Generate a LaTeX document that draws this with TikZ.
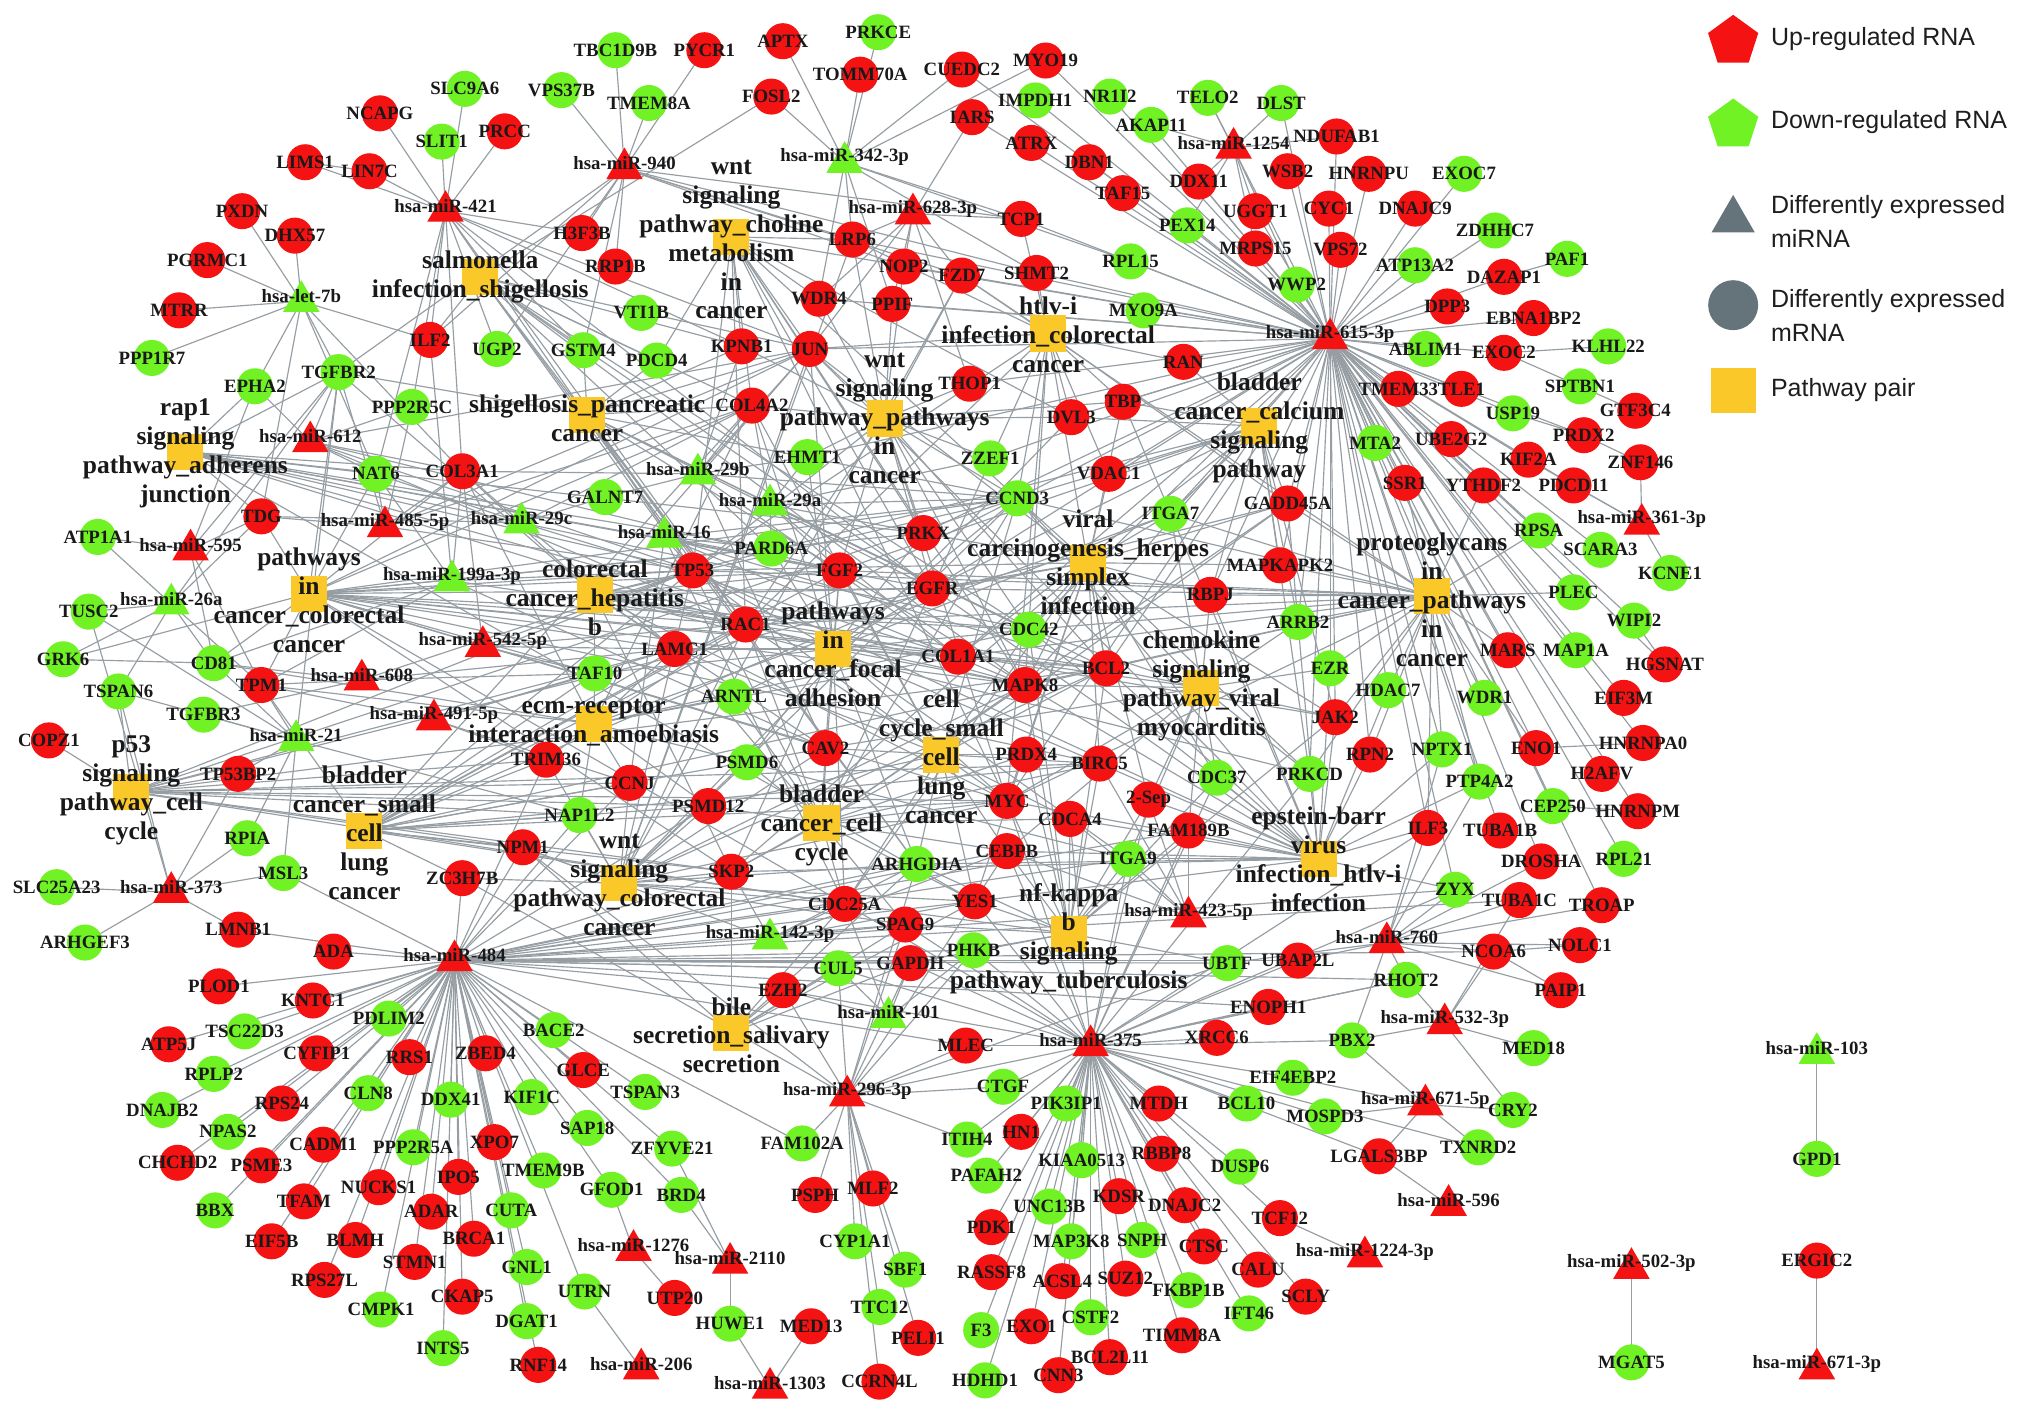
\documentclass[tikz,border=0pt]{standalone}
\usepackage{fontspec}
\setmainfont{Liberation Serif}
\newfontfamily\legfont{Liberation Sans}
\usetikzlibrary{shapes.geometric}
\definecolor{upred}{RGB}{244,18,18}
\definecolor{downgreen}{RGB}{112,242,36}
\definecolor{pwyellow}{RGB}{250,200,40}
\definecolor{edgec}{RGB}{150,158,163}
\definecolor{legray}{RGB}{100,116,122}
\definecolor{labc}{RGB}{25,25,25}
\definecolor{legc}{RGB}{30,30,30}
\pgfdeclarelayer{background}
\pgfsetlayers{background,main}
\tikzset{
  edge/.style={draw=edgec, line width=0.45pt},
  rc/.style={circle, fill=upred, minimum size=14pt, inner sep=0pt},
  gc/.style={circle, fill=downgreen, minimum size=14pt, inner sep=0pt},
  rt/.style={regular polygon, regular polygon sides=3, fill=upred, minimum size=16.4pt, inner sep=0pt, yshift=-2pt},
  gt/.style={regular polygon, regular polygon sides=3, fill=downgreen, minimum size=16.4pt, inner sep=0pt, yshift=-2pt},
  pw/.style={rectangle, fill=pwyellow, minimum size=14pt, inner sep=0pt},
  glab/.style={font=\fontsize{7.3}{8}\selectfont\bfseries, text=labc, inner sep=0pt},
  plab/.style={font=\fontsize{9.9}{11.25}\selectfont\bfseries, align=center, text=labc, inner sep=0pt},
  legt/.style={font=\legfont\fontsize{9.7}{13}\selectfont, anchor=west, align=left, text=legc, inner sep=0pt}
}
\def\RedC{NCAPG/295/88,PRCC/392/102,LIMS1/237/126,LIN7C/287/133,PXDN/188/164,DHX57/229/183,PGRMC1/161/202,MTRR/139/241,ILF2/334/264,COL3A1/359/366,TDG/203/401,TPM1/203/532,COPZ1/38/575,TP53BP2/185/601,ZC3H7B/359/682,LMNB1/185/722,ADA/259/739,PLOD1/170/766,KNTC1/243/777,ATP5J/131/811,CYFIP1/246/818,RRS1/318/821,ZBED4/377/818,RPS24/219/857,GLCE/453/831,CADM1/251/889,XPO7/384/887,CHCHD2/138/903,PSME3/203/905,NUCKS1/294/922,IPO5/356/914,TFAM/236/933,ADAR/335/941,EIF5B/211/964,BLMH/276/963,BRCA1/368/962,STMN1/322/980,RPS27L/252/994,CKAP5/359/1007,UTP20/524/1008,MED13/630/1030,RNF14/418/1060,CCRN4L/683/1073,EZH2/608/769,GAPDH/707/748,MLEC/750/812,PSPH/633/928,MLF2/678/923,PELI1/713/1039,HN1/793/879,MTDH/900/857,RBBP8/902/896,KDSR/869/929,DNAJC2/920/936,PDK1/770/953,RASSF8/770/988,ACSL4/825/995,SUZ12/874/993,CTSC/935/968,CALU/977/986,TCF12/994/946,SCLY/1014/1007,EXO1/801/1030,TIMM8A/918/1037,BCL2L11/862/1054,CNN3/822/1068,LGALS3BP/1071/898,XRCC6/945/806,ENOPH1/985/782,UBAP2L/1008/746,NCOA6/1160/739,NOLC1/1227/734,PAIP1/1212/769,TROAP/1244/703,TUBA1C/1180/699,DROSHA/1197/669,HNRNPM/1272/630,TUBA1B/1165/645,ILF3/1109/643,ENO1/1193/581,H2AFV/1244/601,HNRNPA0/1276/577,EIF3M/1261/542,HGSNAT/1293/516,MARS/1171/505,RPN2/1064/586,JAK2/1037/557,ERGIC2/1411/979}
\def\RedCb{PYCR1/547/39,APTX/608/32,FOSL2/599/75,TOMM70A/668/58,CUEDC2/747/54,IARS/755/91,MYO19/812/47,ATRX/801/111,DBN1/846/126,TAF15/872/150,DDX11/931/141,NDUFAB1/1038/106,WSB2/1000/133,HNRNPU/1063/135,UGGT1/975/164,CYC1/1032/162,DNAJC9/1099/162,TCP1/793/170,MRPS15/975/193,VPS72/1041/194,SHMT2/805/212,DAZAP1/1168/215,DPP3/1124/238,EBNA1BP2/1191/247,EXOC2/1168/274,TMEM33/1086/302,TLE1/1135/302,UBE2G2/1127/341,GTF3C4/1270/319,PRDX2/1230/338,KIF2A/1187/357,ZNF146/1274/359,SSR1/1091/375,YTHDF2/1152/377,PDCD11/1222/377,H3F3B/452/181,RRP1B/478/207,LRP6/662/186,NOP2/702/207,FZD7/747/214,WDR4/636/232,PPIF/693/236,KPNB1/576/269,JUN/629/271,THOP1/753/298,COL4A2/584/315,RAN/919/281,TBP/872/312,DVL3/832/324,VDAC1/861/368,GADD45A/1000/391,MAPKAPK2/994/439,RBPJ/940/462,PRKX/717/414,TP53/538/443,FGF2/652/443,EGFR/724/457,RAC1/579/485,LAMC1/524/504,COL1A1/744/510,BCL2/859/519,MAPK8/796/532,CAV2/641/581,TRIM36/424/590,CCNJ/489/608,PSMD12/550/626,NPM1/406/658,SKP2/568/677,MYC/782/622,PRDX4/797/586,BIRC5/854/593,CDCA4/831/636,FAM189B/923/645,CEBPB/782/661,CDC25A/656/702,YES1/757/700,SPAG9/703/718}
\def\GrnC{SLC9A6/361/69,SLIT1/343/110,PPP1R7/118/278,UGP2/386/271,TGFBR2/263/289,EPHA2/198/300,PPP2R5C/320/316,NAT6/292/368,ATP1A1/76/417,TUSC2/69/475,GRK6/49/512,CD81/166/515,TSPAN6/92/537,TGFBR3/158/555,RPIA/192/651,MSL3/220/678,SLC25A23/44/689,ARHGEF3/66/732,PDLIM2/302/791,TSC22D3/190/801,RPLP2/166/834,DNAJB2/126/862,CLN8/286/849,DDX41/350/854,BACE2/430/800,KIF1C/413/852,NPAS2/177/879,PPP2R5A/321/891,TSPAN3/501/848,SAP18/456/876,ZFYVE21/522/892,BBX/167/940,TMEM9B/422/909,CUTA/397/940,GFOD1/475/924,BRD4/529/928,GNL1/409/984,UTRN/454/1003,CMPK1/296/1017,DGAT1/409/1026,HUWE1/567/1028,INTS5/344/1047,CUL5/651/752,PHKB/756/738,FAM102A/623/888,CYP1A1/664/964,SBF1/703/986,TTC12/683/1015,CTGF/779/844,ITIH4/751/885,PAFAH2/766/913,PIK3IP1/828/857,UNC13B/815/937,KIAA0513/840/901,MAP3K8/832/964,SNPH/887/963,F3/762/1033,HDHD1/765/1072,CSTF2/847/1023,FKBP1B/923/1002,IFT46/970/1020,DUSP6/963/906,BCL10/968/857,EIF4EBP2/1004/837,MOSPD3/1029/867,PBX2/1050/808,RHOT2/1092/761,UBTF/953/748,TXNRD2/1148/891,CRY2/1175/862,MED18/1191/814,GPD1/1411/900,MGAT5/1267/1058}
\def\GrnCb{TBC1D9B/478/39,VPS37B/436/70,TMEM8A/504/80,PRKCE/682/25,IMPDH1/804/78,NR1I2/862/75,AKAP11/894/97,TELO2/938/76,DLST/995/80,EXOC7/1137/135,ZDHHC7/1161/179,PAF1/1217/201,PEX14/922/175,ATP13A2/1099/206,WWP2/1007/221,RPL15/878/203,MYO9A/888/241,ABLIM1/1107/271,KLHL22/1249/269,SPTBN1/1227/300,USP19/1175/321,MTA2/1068/344,RPSA/1195/412,SCARA3/1243/427,KCNE1/1297/445,PLEC/1222/460,WIPI2/1269/482,MAP1A/1224/505,CEP250/1206/626,RPL21/1261/667,VTI1B/498/243,GSTM4/453/272,PDCD4/510/280,EHMT1/627/355,ZZEF1/769/356,CCND3/790/387,ITGA7/909/399,GALNT7/470/386,PARD6A/599/426,TAF10/462/523,ARNTL/570/541,PSMD6/580/592,NAP1L2/450/633,ARHGDIA/712/671,CDC42/799/489,ARRB2/1008/483,EZR/1033/519,HDAC7/1078/536,WDR1/1153/542,NPTX1/1120/582,PRKCD/1017/601,CDC37/945/604,PTP4A2/1149/607,ITGA9/876/667,ZYX/1130/691}
\def\RedT{m421/346/160/hsa-miR-421,m940/485/127/hsa-miR-940,m628/709/162/hsa-miR-628-3p,m1254/958/111/hsa-miR-1254,m615/1033/259/hsa-miR-615-3p,m612/241/339/hsa-miR-612,m485/299/405/hsa-miR-485-5p,m595/148/423/hsa-miR-595,m542/375/498/hsa-miR-542-5p,m608/281/524/hsa-miR-608,m491/337/555/hsa-miR-491-5p,m373/133/689/hsa-miR-373,m484/353/742/hsa-miR-484,m1276/492/967/hsa-miR-1276,m2110/567/977/hsa-miR-2110,m206/498/1059/hsa-miR-206,m1303/598/1074/hsa-miR-1303,m296/658/847/hsa-miR-296-3p,m375/847/808/hsa-miR-375,m423/923/708/hsa-miR-423-5p,m760/1077/728/hsa-miR-760,m532/1122/791/hsa-miR-532-3p,m671a/1107/854/hsa-miR-671-5p,m596/1125/932/hsa-miR-596,m1224/1060/972/hsa-miR-1224-3p,m361/1275/403/hsa-miR-361-3p,m502/1267/981/hsa-miR-502-3p,m671b/1411/1059/hsa-miR-671-3p}
\def\GrnT{let7b/234/230/hsa-let-7b,m342/656/122/hsa-miR-342-3p,m199/351/447/hsa-miR-199a-3p,m26a/133/465/hsa-miR-26a,m21/230/571/hsa-miR-21,m29b/542/364/hsa-miR-29b,m29a/598/388/hsa-miR-29a,m29c/405/402/hsa-miR-29c,m16/516/413/hsa-miR-16,m142/598/725/hsa-miR-142-3p,m101/690/786/hsa-miR-101,m103/1411/814/hsa-miR-103}
\def\PW{psal/373/215/215/{salmonella\\infection\_shigellosis},pwch/568/184/186/{wnt\\signaling\\pathway\_choline\\metabolism\\in\\cancer},phtc/814/259/260/{htlv-i\\infection\_colorectal\\cancer},prap/144/351/352/{rap1\\signaling\\pathway\_adherens\\junction},pshp/456/322/325/{shigellosis\_pancreatic\\cancer},pwpc/687/325/325/{wnt\\signaling\\pathway\_pathways\\in\\cancer},pbca/978/331/332/{bladder\\cancer\_calcium\\signaling\\pathway},ppcc/240/461/466/{pathways\\in\\cancer\_colorectal\\cancer},pchb/462/462/464/{colorectal\\cancer\_hepatitis\\b},pvch/845/437/437/{viral\\carcinogenesis\_herpes\\simplex\\infection},ppgc/1112/463/466/{proteoglycans\\in\\cancer\_pathways\\in\\cancer},ppfa/647/504/508/{pathways\\in\\cancer\_focal\\adhesion},pecm/461/562/561/{ecm-receptor\\interaction\_amoebiasis},pchm/933/534/533/{chemokine\\signaling\\pathway\_viral\\myocarditis},pccs/731/586/588/{cell\\cycle\_small\\cell\\lung\\cancer},pp53/102/615/614/{p53\\signaling\\pathway\_cell\\cycle},pbsc/283/645/647/{bladder\\cancer\_small\\cell\\lung\\cancer},pbcc/638/639/641/{bladder\\cancer\_cell\\cycle},pebv/1024/667/667/{epstein-barr\\virus\\infection\_htlv-i\\infection},pwcr/481/686/687/{wnt\\signaling\\pathway\_colorectal\\cancer},pnfk/830/725/729/{nf-kappa\\b\\signaling\\pathway\_tuberculosis},pbil/568/802/804/{bile\\secretion\_salivary\\secretion}}
\def\EDGES{%
m484/{ADA,PLOD1,KNTC1,PDLIM2,TSC22D3,ATP5J,CYFIP1,RRS1,ZBED4,RPLP2,DNAJB2,RPS24,CLN8,DDX41,NPAS2,CADM1,PPP2R5A,CHCHD2,PSME3,NUCKS1,IPO5,BBX,TFAM,ADAR,EIF5B,BLMH,BRCA1,STMN1,RPS27L,CKAP5,CMPK1,INTS5,XPO7,KIF1C,BACE2,GLCE,SAP18,TMEM9B,CUTA,GNL1,DGAT1,RNF14,TSPAN3,ZFYVE21,GFOD1,BRD4,UTRN,ZC3H7B,LMNB1,MSL3,NPM1,TRIM36,NAP1L2,CCNJ,PSMD12,SKP2,CDC25A,SPAG9,GAPDH,CUL5,PHKB,EZH2,YES1,UBTF,UBAP2L,NCOA6,ITGA9,CEBPB,ARHGDIA,ZYX,TUBA1C,MLEC,FAM102A,RHOT2,FAM189B,ENOPH1},%
m615/{NDUFAB1,WSB2,HNRNPU,CYC1,DNAJC9,EXOC7,UGGT1,MRPS15,VPS72,WWP2,ATP13A2,ZDHHC7,DAZAP1,DPP3,EBNA1BP2,ABLIM1,EXOC2,TMEM33,TLE1,MTA2,UBE2G2,USP19,KIF2A,PRDX2,SSR1,YTHDF2,PDCD11,RPSA,SCARA3,PLEC,WIPI2,MAP1A,MARS,HGSNAT,EIF3M,ENO1,HNRNPA0,H2AFV,CEP250,HNRNPM,TUBA1B,DROSHA,RPL21,TROAP,WDR1,NPTX1,PTP4A2,ILF3,RPN2,HDAC7,EZR,JAK2,RAN,TBP,RPL15,MYO9A,SHMT2,TCP1,PEX14,DDX11,TAF15,DBN1,ATRX,IMPDH1,MYO19,AKAP11,NR1I2,DLST,GADD45A,MAPKAPK2,ARRB2,DVL3,VDAC1,ITGA7,THOP1,FZD7,PPIF,NOP2,LRP6,CUEDC2,IARS,TELO2,ZYX,PRKCD,RBPJ,BCL2,CDC42,CCND3,PRKX,EGFR,ZZEF1,EHMT1,JUN,WDR4,COL1A1,MAPK8},%
m375/{CTGF,PIK3IP1,HN1,ITIH4,PAFAH2,KIAA0513,UNC13B,PDK1,RASSF8,MAP3K8,SNPH,F3,ACSL4,EXO1,HDHD1,CNN3,CSTF2,BCL2L11,SUZ12,KDSR,TIMM8A,FKBP1B,MTDH,RBBP8,DNAJC2,CTSC,CALU,IFT46,DUSP6,TCF12,SCLY,BCL10,XRCC6,ENOPH1,EIF4EBP2,MOSPD3,LGALS3BP,UBTF,MLEC,UBAP2L,RHOT2,TXNRD2,PBX2,PHKB,GAPDH,CUL5,SPAG9,YES1,CEBPB,ITGA9,FAM189B,CDCA4,MYC,SEPT2,CDC37,PRKCD,ZYX,ILF3,EZH2,CDC25A},%
m296/{FAM102A,PSPH,MLF2,CYP1A1,SBF1,TTC12,PELI1,CCRN4L,MLEC,CTGF,ITIH4,PHKB,SPAG9,GAPDH,EZH2,CUL5,ARHGDIA,NPM1,ZC3H7B,CEBPB,UBTF,RHOT2},%
m421/{NCAPG,SLIT1,SLC9A6,PRCC,LIN7C,LIMS1,ILF2,UGP2,COL3A1,PPP2R5C,NAT6,GSTM4,KPNB1,JUN,TP53,RAC1,EGFR,H3F3B},%
let7b/{PXDN,DHX57,PGRMC1,MTRR,PPP1R7,TGFBR2,COL3A1,NAT6,EPHA2,ILF2,TDG},%
m940/{TBC1D9B,VPS37B,TMEM8A,PYCR1,RRP1B,H3F3B,ILF2,GSTM4,FZD7,LRP6,NOP2,TCP1,SHMT2,UGP2,TGFBR2},%
m342/{APTX,FOSL2,TOMM70A,PRKCE,WDR4,LRP6,PPIF,TCP1,CUEDC2,MYO19,SHMT2,RPL15},%
m628/{LRP6,NOP2,FZD7,WDR4,PPIF,TCP1,JUN,IARS,THOP1},%
m1254/{TELO2,DLST,NDUFAB1,UGGT1,MRPS15,AKAP11,DDX11,WWP2,PEX14},%
m612/{TGFBR2,EPHA2,COL3A1,NAT6,PPP2R5C,JUN,TP53,RAC1,FGF2},%
m485/{NAT6,TDG,COL3A1,TGFBR2,PPP2R5C,TP53,COL4A2,JUN},%
m595/{ATP1A1,TDG,TGFBR2,EPHA2,CD81,TPM1},%
m26a/{ATP1A1,TUSC2,GRK6,CD81,TSPAN6,TGFBR2,TDG,TPM1},%
m199/{CD81,TPM1,CAV2,TP53,RAC1,NAT6,COL3A1,ILF2},%
m608/{TPM1,CD81,TGFBR3,TAF10,LAMC1,TP53},%
m491/{TPM1,TAF10,TRIM36,LAMC1,CCNJ},%
m542/{TAF10,LAMC1,TP53,COL3A1,RAC1},%
m21/{TPM1,TGFBR3,TSPAN6,CD81,RPIA,MSL3,TP53BP2,TGFBR2,TUSC2,NAP1L2},%
m373/{RPIA,SLC25A23,ARHGEF3,LMNB1,TSPAN6,TUSC2,TP53BP2,MSL3},%
m29b/{COL4A2,COL1A1,COL3A1,CAV2,CCND3,GALNT7,KPNB1,JUN,EHMT1},%
m29a/{COL4A2,COL1A1,CDC42,PRKX,EHMT1,CCND3,FGF2,PARD6A,ZZEF1},%
m29c/{COL3A1,COL4A2,COL1A1,TDG,GALNT7,NAT6,LAMC1},%
m16/{CCND3,BCL2,CDC25A,FGF2,TP53,PARD6A,CCNJ,MAPK8},%
m142/{SPAG9,CDC25A,CEBPB,SKP2,ARHGDIA,YES1,NPM1},%
m101/{EZH2,GAPDH,CUL5,PHKB,CDC25A},%
m423/{ITGA9,FAM189B,CDCA4,SEPT2,CEBPB,BIRC5},%
m760/{NCOA6,NOLC1,PAIP1,RHOT2,UBAP2L,PBX2,ZYX,TUBA1C,ILF3,TROAP,DROSHA,NPTX1,PTP4A2,UBTF},%
m532/{MED18,RHOT2,CRY2,PBX2,NCOA6,TUBA1C},%
m671a/{TXNRD2,LGALS3BP,MOSPD3,CRY2,EIF4EBP2,PBX2},%
m596/{LGALS3BP},m1224/{TCF12},m361/{KCNE1,PDCD11,KIF2A,ZNF146},%
m1276/{GFOD1,UTP20},m2110/{BRD4,HUWE1,ZFYVE21},m206/{UTRN},m1303/{MED13,HUWE1},%
m103/{GPD1},m502/{MGAT5},m671b/{ERGIC2},%
DAZAP1/{PAF1},EXOC2/{KLHL22,SPTBN1},SPTBN1/{GTF3C4},USP19/{PRDX2},PRDX2/{ZNF146},WIPI2/{HGSNAT},NCOA6/{NOLC1,PAIP1},LIMS1/{LIN7C},GRK6/{CD81},CEP250/{HNRNPM},ENO1/{HNRNPA0},%
psal/{JUN,RAC1,CDC42,MAPK8,PARD6A,TP53,ARHGDIA,EGFR,KPNB1,GSTM4,ILF2,FOSL2,COL4A2,PDCD4},%
pwch/{JUN,FZD7,LRP6,DVL3,KPNB1,PDCD4,EGFR,RAC1,MAPK8,TP53,CCND3,MYC,PRKX,WDR4,COL4A2},%
phtc/{JUN,TP53,DVL3,FZD7,TBP,CCND3,MYC,EGFR,RAC1,BCL2,MAPK8,VDAC1,LRP6,RAN,GADD45A,TCP1,SHMT2},%
prap/{TGFBR2,EPHA2,RAC1,CDC42,EGFR,FGF2,PARD6A,YES1,NAT6,COL3A1,TP53,MAPK8,PRKX,TDG},%
pshp/{JUN,RAC1,CDC42,MAPK8,TP53,EGFR,ARHGDIA,TGFBR2,CCND3,GSTM4,KPNB1,PDCD4,COL4A2,BCL2},%
pwpc/{JUN,FZD7,LRP6,DVL3,CCND3,MYC,TP53,EGFR,FGF2,RAC1,PRKX,WDR4,PPIF,TBP,NOP2,THOP1,ZZEF1,EHMT1,COL4A2,KPNB1,CDC42,BCL2,MAPK8},%
pbca/{EGFR,MYC,TP53,VDAC1,GADD45A,ITGA7,MAPKAPK2,RBPJ,PRKCD,CCND3,JAK2,RAN,TBP,DVL3,ARRB2,COL1A1,FGF2},%
ppcc/{TP53,RAC1,EGFR,FGF2,MYC,CCND3,JUN,BCL2,MAPK8,LAMC1,COL4A2,TGFBR2,CDC42,BIRC5,SKP2,TPM1,TDG,CD81,NAT6,COL3A1,TAF10,CAV2,PARD6A,GRK6,COL1A1,CDC25A,PRKX},%
pchb/{TP53,RAC1,MYC,CCND3,JUN,EGFR,BCL2,MAPK8,CDC42,FGF2,TAF10,LAMC1,PRKCD,JAK2,COL3A1,TGFBR2,CAV2,SKP2},%
pvch/{JUN,TP53,CCND3,CDC42,MAPK8,BCL2,JAK2,TBP,EGFR,RBPJ,PRKX,GADD45A,CDC37,SKP2,YES1,CDC25A,MYC,RAC1,ITGA7,VDAC1,MAPKAPK2,PRKCD,SEPT2,BIRC5},%
ppgc/{EGFR,CDC42,RAC1,MAPK8,FGF2,EZR,JAK2,MYC,CCND3,TP53,ARRB2,HDAC7,RBPJ,WDR1,PRKCD,FZD7,COL1A1,RPN2,GADD45A,MAPKAPK2,ITGA7,BCL2,NPTX1,PTP4A2,ILF3,MARS,ENO1,PLEC,RPSA,YTHDF2,SSR1},%
ppfa/{EGFR,RAC1,CDC42,CAV2,COL1A1,COL4A2,LAMC1,FGF2,JUN,MAPK8,BCL2,CCND3,BIRC5,PRKX,ITGA7,ITGA9,ARHGDIA,TP53,MYC,PARD6A,ARNTL,PSMD6,TAF10,SKP2,CDC25A,EHMT1},%
pecm/{COL1A1,COL3A1,COL4A2,LAMC1,ITGA7,ITGA9,CD81,TPM1,ARNTL,RAC1,CDC42,TAF10,TRIM36,CCNJ,NAP1L2,PSMD12},%
pchm/{CDC42,RAC1,JAK2,ARRB2,PRKCD,CAV2,BCL2,ITGA9,MAPK8,EZR,RBPJ,CDC37,SEPT2,FAM189B,MYC,CCND3,CEBPB,ITGA7},%
pccs/{CCND3,MYC,TP53,SKP2,CDC25A,GADD45A,BCL2,LAMC1,COL4A2,BIRC5,CDCA4,PRDX4,CDC42,RAC1,CAV2,ARHGDIA,YES1,CEBPB,PSMD12,FGF2},%
pp53/{TP53,CCND3,GADD45A,MYC,CDC25A,SKP2,TP53BP2,COPZ1,TSPAN6,TRIM36,NAP1L2,NPM1,PSMD12,CCNJ,BCL2,BIRC5,LAMC1},%
pbsc/{TP53,MYC,CCND3,EGFR,FGF2,LAMC1,COL4A2,BCL2,SKP2,CDC25A,BIRC5,TRIM36,NPM1,NAP1L2,CCNJ,PSMD12,CAV2,RAC1,ZC3H7B,TAF10,TPM1},%
pbcc/{TP53,MYC,CCND3,EGFR,FGF2,SKP2,CDC25A,GADD45A,CAV2,PSMD12,PSMD6,ARNTL,BIRC5,CEBPB,PRDX4,CDCA4,YES1,SPAG9,RAC1,LAMC1,MAPK8},%
pebv/{JUN,TP53,MYC,CCND3,BCL2,MAPK8,JAK2,RBPJ,PRKCD,TBP,SKP2,YES1,ARHGDIA,ILF3,ZYX,CDC37,SEPT2,FAM189B,ITGA9,CEBPB,CDCA4,BIRC5,RPN2,HDAC7,EZR,NPTX1,PTP4A2,GADD45A,CDC42,EGFR},%
pwcr/{JUN,MYC,CCND3,TP53,FZD7,LRP6,DVL3,RAC1,MAPK8,BCL2,SKP2,NPM1,CCNJ,PSMD12,PSMD6,CDC25A,SPAG9,YES1,ARHGDIA,CAV2,TRIM36,NAP1L2,ZC3H7B},%
pnfk/{BCL2,BIRC5,CEBPB,MAPK8,JAK2,ITGA9,CDC42,SEPT2,YES1,SPAG9,CDCA4,PRDX4,MYC,FAM189B,CDC37,ARHGDIA,CDC25A,PHKB,UBTF,GAPDH},%
pbil/{CDC25A,SKP2,NPM1,YES1,SPAG9,ARHGDIA,EZH2,GAPDH,CUL5}}
\begin{document}
\begin{tikzpicture}[x=0.5pt,y=-0.5pt]
\useasboundingbox (0,0) rectangle (1568,1098);
% ---- node shapes ----
\foreach \nm/\x/\y in \RedC {\node[rc] (\nm) at (\x,\y) {};}
\foreach \nm/\x/\y in \RedCb {\node[rc] (\nm) at (\x,\y) {};}
\node[rc] (SEPT2) at (892,621) {};
\foreach \nm/\x/\y in \GrnC {\node[gc] (\nm) at (\x,\y) {};}
\foreach \nm/\x/\y in \GrnCb {\node[gc] (\nm) at (\x,\y) {};}
\foreach \nm/\x/\y/\tx in \RedT {\node[rt] (\nm) at (\x,\y) {};}
\foreach \nm/\x/\y/\tx in \GrnT {\node[gt] (\nm) at (\x,\y) {};}
\foreach \nm/\x/\y/\ly/\tx in \PW {\node[pw] (\nm) at (\x,\y) {};}
% ---- connectors ----
\begin{pgfonlayer}{background}
\fill[white] (0,0) rectangle (1568,1098);
\foreach \src/\tgts in \EDGES {\foreach \tg in \tgts {\draw[edge] (\src.center) -- (\tg.center);}}
\end{pgfonlayer}
% ---- labels ----
\foreach \nm/\x/\y in \RedC {\node[glab] at (\x,\y) {\nm};}
\foreach \nm/\x/\y in \RedCb {\node[glab] at (\x,\y) {\nm};}
\node[glab] at (892,621) {2-Sep};
\foreach \nm/\x/\y in \GrnC {\node[glab] at (\x,\y) {\nm};}
\foreach \nm/\x/\y in \GrnCb {\node[glab] at (\x,\y) {\nm};}
\foreach \nm/\x/\y/\tx in \RedT {\node[glab] at (\x,\y) {\tx};}
\foreach \nm/\x/\y/\tx in \GrnT {\node[glab] at (\x,\y) {\tx};}
\foreach \nm/\x/\y/\ly/\tx in \PW {\node[plab] at (\x,\ly) {\tx};}
% ---- legend ----
\node[regular polygon, regular polygon sides=5, fill=upred, minimum size=20.5pt, inner sep=0pt, yshift=-1pt] (lgup) at (1346,30) {};
\node[regular polygon, regular polygon sides=5, fill=downgreen, minimum size=20.5pt, inner sep=0pt, yshift=-1pt] (lgdown) at (1346,95) {};
\node[regular polygon, regular polygon sides=3, fill=legray, minimum size=19.4pt, inner sep=0pt, yshift=-2.4pt] (lgmi) at (1346,166) {};
\node[circle, fill=legray, minimum size=19.4pt, inner sep=0pt] (lgm) at (1346,237) {};
\node[rectangle, fill=pwyellow, minimum size=17.5pt, inner sep=0pt] (lgp) at (1346,303) {};
\node[legt] (lt1) at (1375,30) {Up-regulated RNA};
\node[legt] (lt2) at (1375,95) {Down-regulated RNA};
\node[legt] (lt3) at (1375,172) {Differently expressed\\miRNA};
\node[legt] (lt4) at (1375,245) {Differently expressed\\mRNA};
\node[legt] (lt5) at (1375,303) {Pathway pair};
\end{tikzpicture}
\end{document}
